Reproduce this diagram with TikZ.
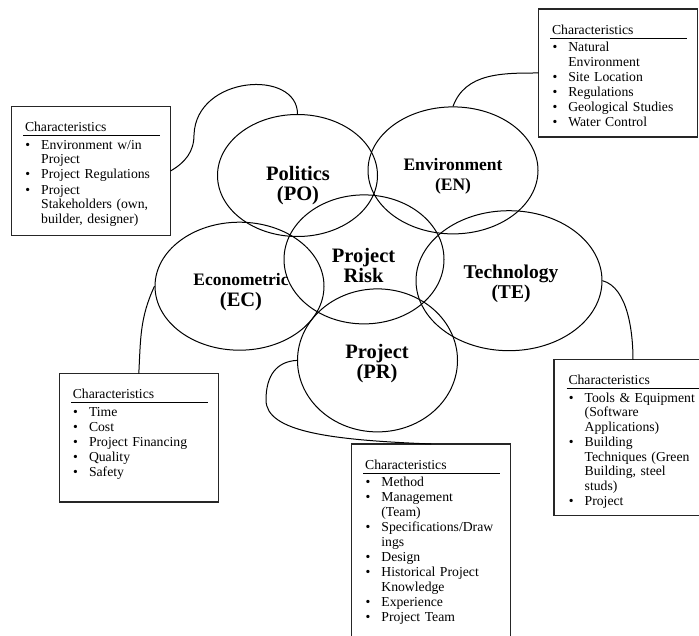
\documentclass[tikz,border=0pt]{standalone}
\usepackage{fontspec}
\setmainfont{Liberation Serif}
\usepackage{enumitem}
\usetikzlibrary{positioning,shapes.geometric}
\setlist[itemize]{nosep,itemsep=0.6pt,label=\strut\textbullet,labelindent=0pt,labelwidth=7pt,labelsep=11pt,leftmargin=!}
\newcommand{\charhead}{\hspace*{1.8pt}Characteristics\par\vspace{3.4pt}\hrule height 1pt\vspace{2.7pt}}
\tikzset{factor/.style={ellipse,draw,line width=1pt,inner sep=0pt},
 factorname/.style={align=center,font=\bfseries\fontsize{20.5}{20}\selectfont},
 listbox/.style={draw=black!85,line width=1.3pt,inner sep=0pt,outer sep=0pt,minimum width=159pt},
 listtext/.style={anchor=north west,inner sep=0pt,text width=137pt,align=left,
 font=\fontsize{13.7}{14.6}\selectfont},
 link/.style={draw,line width=1pt}}
\begin{document}
\begin{tikzpicture}[x=1pt,y=1pt]
\path[use as bounding box,clip] (0,0) rectangle (699,-636);
\node[factor,minimum width=160pt,minimum height=122pt] (po) at (297.5,-175.5) {};
\node[factor,minimum width=170pt,minimum height=127pt] (en) at (453,-170.4) {};
\node[factor,minimum width=160pt,minimum height=129pt] (risk) at (364,-259.4) {};
\node[factor,minimum width=169pt,minimum height=128pt] (ec) at (239.5,-286.2) {};
\node[factor,minimum width=186pt,minimum height=140pt] (te) at (509,-280.7) {};
\node[factor,minimum width=160pt,minimum height=143pt] (pr) at (377.5,-360.4) {};
\node[factorname] (poName) at ([shift={(0.5,-10.3)}]po.center) {Politics\\(PO)};
\node[factorname,font=\bfseries\fontsize{17.5}{19.5}\selectfont] (enName) at ([shift={(0,-5.7)}]en.center) {Environment\\(EN)};
\node[factorname,font=\bfseries\fontsize{20.5}{20.5}\selectfont] (riskName) at ([shift={(-0.5,-6.3)}]risk.center) {Project\\Risk};
\node[factorname,font=\bfseries\fontsize{20.5}{20.3}\selectfont] (ecName) at ([shift={(1.5,-5.9)}]ec.center) {{\fontsize{17.5}{20.3}\selectfont Econometric}\\(EC)};
\node[factorname,font=\bfseries\fontsize{19.5}{19.5}\selectfont] (teName) at ([shift={(2,-2.9)}]te.center) {Technology\\(TE)};
\node[factorname] (prName) at ([shift={(-0.5,-3.1)}]pr.center) {Project\\(PR)};
\node[listbox,minimum height=128.6pt] (poBox) at (91,-171) {};
\node[listbox,minimum height=128pt] (enBox) at (618.1,-73) {};
\node[listbox,minimum height=128.3pt] (ecBox) at (138.8,-437.8) {};
\node[listbox,minimum height=236pt] (prBox) at (431.2,-562) {};
\node[listbox,minimum width=158pt,minimum height=155.6pt] (teBox) at (633,-437.4) {};
\node[listtext] (poList) at ([shift={(11.5,-15.3)}]poBox.north west) {\charhead
\begin{itemize}
\item Environment w/in\newline Project
\item Project Regulations
\item Project\newline Stakeholders (own,\newline builder, designer)
\end{itemize}};
\node[listtext] (enList) at ([shift={(11.5,-15.3)}]enBox.north west) {\charhead
\begin{itemize}
\item Natural\newline Environment
\item Site Location
\item Regulations
\item Geological Studies
\item Water Control
\end{itemize}};
\node[listtext] (ecList) at ([shift={(11.5,-15.3)}]ecBox.north west) {\charhead
\begin{itemize}
\item Time
\item Cost
\item Project Financing
\item Quality
\item Safety
\end{itemize}};
\node[listtext] (prList) at ([shift={(11.5,-15.3)}]prBox.north west) {\charhead
\begin{itemize}
\item Method
\item Management\newline (Team)
\item Specifications/Draw\newline ings
\item Design
\item Historical Project\newline Knowledge
\item Experience
\item Project Team
\end{itemize}};
\node[listtext] (teList) at ([shift={(12.5,-15.3)}]teBox.north west) {\charhead
\begin{itemize}
\item Tools \& Equipment\newline (Software\newline Applications)
\item Building\newline Techniques (Green\newline Building, steel\newline studs)
\item Project
\end{itemize}};
\draw[link] (poBox.east) to[out=30,in=-90] ++(23.5,36) .. controls +(2,60) and +(0,45) .. (po.north);
\draw[link] (enBox.west) to[out=180,in=70] (en.north);
\draw[link] (ecBox.north) to[out=87,in=-115] (ec.west);
\draw[link] (te.east) to[out=-15,in=90,looseness=0.8] (teBox.north);
\draw[link] (pr.west) .. controls +(-20,-1) and +(0,25) .. ++(-31,-39.6) .. controls +(0,-32) and +(-100,4) .. (prBox.north);
\end{tikzpicture}
\end{document}
